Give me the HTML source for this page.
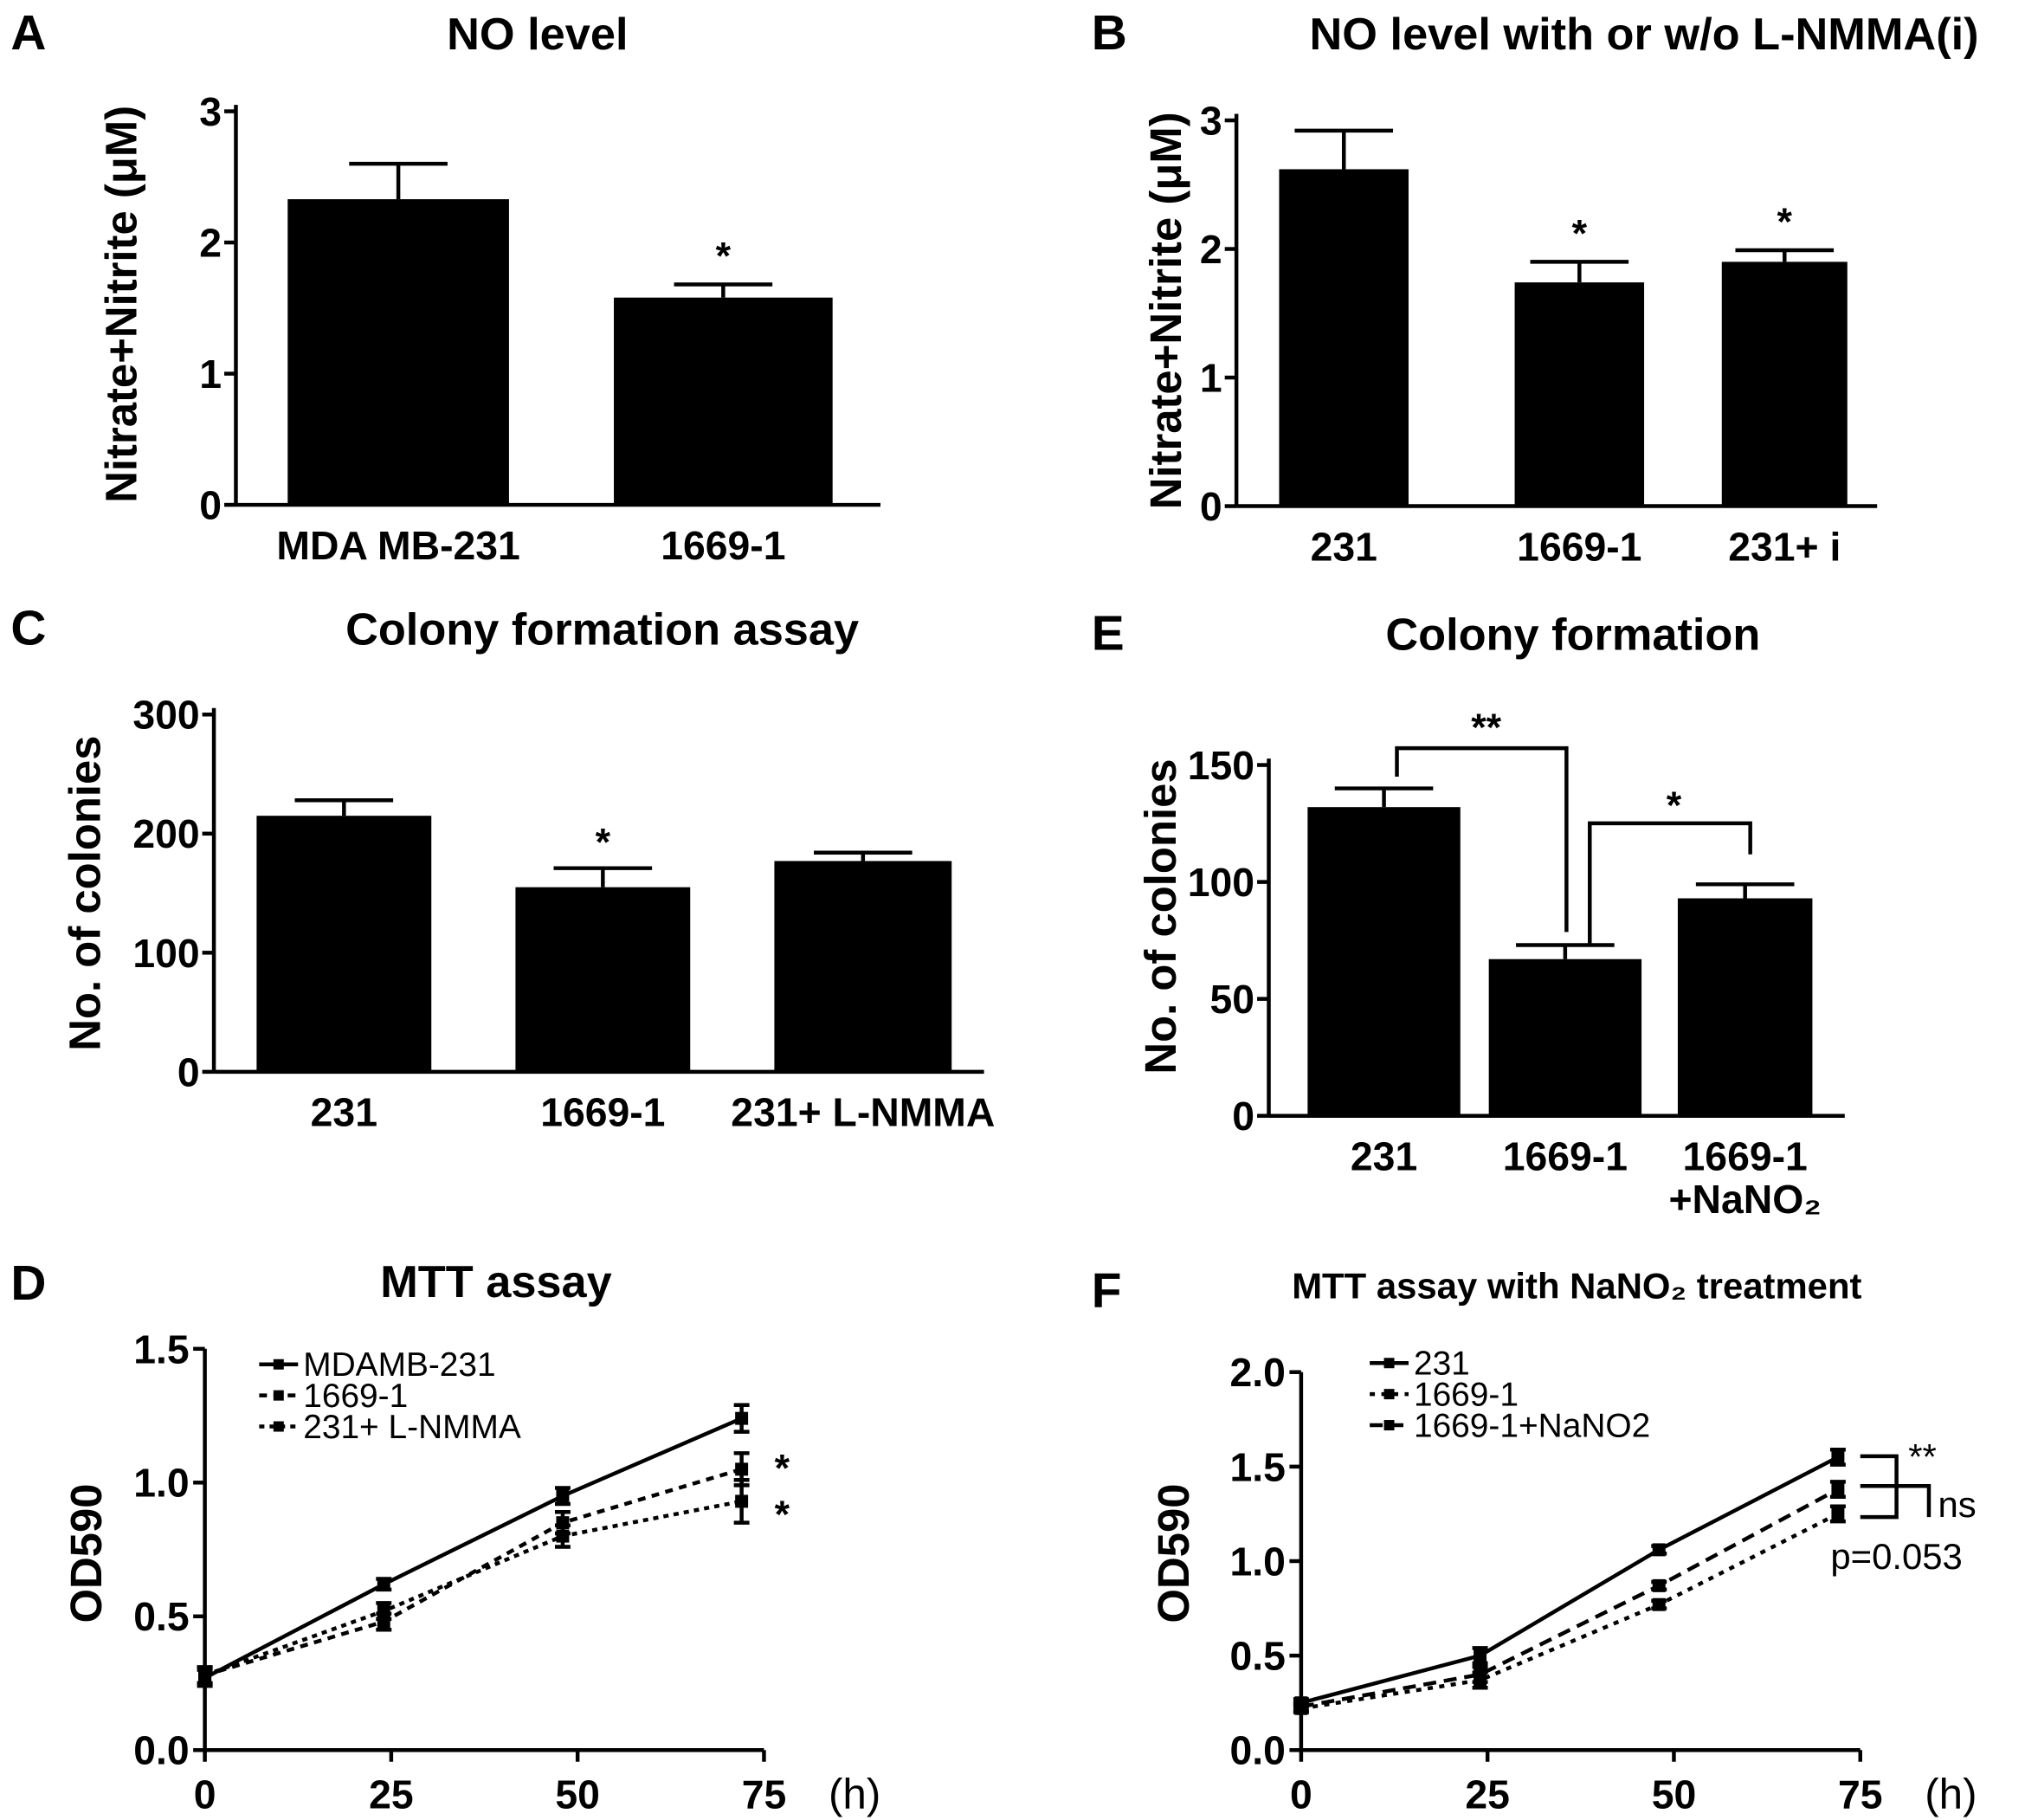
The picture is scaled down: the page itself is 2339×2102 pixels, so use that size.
<!DOCTYPE html>
<html><head><meta charset="utf-8"><style>
html,body{margin:0;padding:0;background:#fff}
svg{display:block}
text{font-family:"Liberation Sans",Arial,sans-serif;fill:#000}
</style></head><body>
<svg id="fig" xmlns="http://www.w3.org/2000/svg" width="2339" height="2102" viewBox="0 0 1564 1406">
<rect width="1564" height="1406" fill="#fff"/>
</svg>
<script>
// Panel A
const aCats=["MDA MB-231","1669-1"];
const aVals=[2.33,1.58];
const aErr=[0.27,0.1];
// Panel B
const bCats=["231","1669-1","231+ i"];
const bVals=[2.62,1.74,1.9];
const bErr=[0.3,0.16,0.09];
// Panel C
const cCats=["231","1669-1","231+ L-NMMA"];
const cVals=[215,155,177];
const cErr=[13,16,7];
// Panel E
const eCats=["231","1669-1","1669-1"];
const eVals=[132,67,93];
const eErr=[8,6,6];
// Panel D
const dX=[0,24,48,72];
const dS1=[0.27,0.62,0.95,1.24];
const dS2=[0.28,0.48,0.85,1.05];
const dS3=[0.28,0.52,0.80,0.93];
const dE1=[0.03,0.02,0.03,0.05];
const dE2=[0.03,0.03,0.04,0.06];
const dE3=[0.03,0.03,0.04,0.08];
// Panel F
const fX=[0,24,48,72];
const fS1=[0.25,0.50,1.06,1.55];
const fS2=[0.22,0.37,0.77,1.25];
const fS3=[0.23,0.40,0.87,1.38];
const fE=[0.02,0.04,0.02,0.04];

const NS="http://www.w3.org/2000/svg";
const svg=document.getElementById('fig');
function mk(tag,attrs,parent){const e=document.createElementNS(NS,tag);for(const k in attrs)e.setAttribute(k,attrs[k]);(parent||svg).appendChild(e);return e;}
function txt(x,y,s,size,opts,parent){opts=opts||{};const t=mk('text',{x:x,y:y,'font-size':size,'font-weight':opts.w||'bold','text-anchor':opts.a||'middle'},parent);if(opts.rot)t.setAttribute('transform','rotate(-90 '+x+' '+y+')');t.textContent=s;return t;}
function line(x1,y1,x2,y2,w,parent,dash){const l=mk('line',{x1:x1,y1:y1,x2:x2,y2:y2,stroke:'#000','stroke-width':w||3},parent);if(dash)l.setAttribute('stroke-dasharray',dash);return l;}

function barPanel(name,cfg,cats,vals,errs){
  const g=mk('g',{});
  
  
  const y=v=>cfg.y0-(v-0)/(cfg.vmax)*(cfg.y0-cfg.yTop);
  const ax=line(cfg.ax,cfg.yTop-5,cfg.ax,cfg.y0,3,g);
  
  const xa=line(cfg.ax,cfg.y0,cfg.axEnd,cfg.y0,3,g);
  
  cfg.ticks.forEach(t=>{line(cfg.ax-9,y(t),cfg.ax,y(t),3,g);
    const tl=txt(cfg.ax-11,y(t)+11,String(t),31,{a:'end'},g);
    });
  cats.forEach((c,i)=>{
    const x0=cfg.bx[i][0],x1=cfg.bx[i][1],cx=(x0+x1)/2;
    const b=mk('rect',{x:x0,y:y(vals[i]),width:x1-x0,height:cfg.y0-y(vals[i]),fill:'#000'},g);
    
    
    const ey=y(vals[i]+errs[i]);
    line(cx,y(vals[i]),cx,ey,3,g);line(cx-38,ey,cx+38,ey,3,g);
    const tl=txt(cx,cfg.y0+cfg.labDy,c,31,{},g);
    
    if(cfg.stars&&cfg.stars[i]){const s=txt(cx,ey-cfg.starDy,cfg.stars[i],30,{},g);
      }
  });
  const tt=txt(cfg.titleX,cfg.titleY,cfg.title,35,{},g);
  
  const yl=txt(cfg.ylX,cfg.ylY,cfg.ylabel,cfg.ylSize||34,{rot:true},g);
  
  const pl=txt(cfg.plX,cfg.plY,cfg.pl,38,{a:'start'},g);
  
  return {g,y};
}

barPanel('panel-a',{ax:182,axEnd:680,y0:390,yTop:86,vmax:3,ticks:[0,1,2,3],bx:[[222,393],[474,643]],labDy:42,
  stars:['','*'],starDy:12,title:'NO level',titleX:415,titleY:38,ylabel:'Nitrate+Nitrite (\u03bcM)',ylX:105,ylY:235,pl:'A',plX:8,plY:38},aCats,aVals,aErr);
barPanel('panel-b',{ax:955,axEnd:1450,y0:391,yTop:93,vmax:3,ticks:[0,1,2,3],bx:[[988,1088],[1170,1270],[1330,1427]],labDy:42,
  stars:['','*','*'],starDy:12,title:'NO level with or w/o L-NMMA(i)',titleX:1270,titleY:38,ylabel:'Nitrate+Nitrite (\u03bcM)',ylX:912,ylY:240,pl:'B',plX:843,plY:38},bCats,bVals,bErr);
barPanel('panel-c',{ax:165,axEnd:760,y0:828,yTop:552,vmax:300,ticks:[0,100,200,300],bx:[[198,333],[398,533],[598,735]],labDy:42,
  stars:['','*',''],starDy:10,title:'Colony formation assay',titleX:465,titleY:498,ylabel:'No. of colonies',ylX:77,ylY:690,pl:'C',plX:8,plY:498},cCats,cVals,cErr);
const E=barPanel('panel-e',{ax:980,axEnd:1425,y0:862,yTop:591,vmax:150,ticks:[0,50,100,150],bx:[[1010,1128],[1150,1268],[1296,1400]],labDy:42,
  stars:null,title:'Colony formation',titleX:1215,titleY:502,ylabel:'No. of colonies',ylX:908,ylY:708,pl:'E',plX:843,plY:502},eCats,eVals,eErr);
txt(1348,937,'+NaNO\u2082',31,{},E.g);
const br=mk('g',{});


mk('polyline',{points:'1079,600 1079,578 1210,578 1210,720',fill:'none',stroke:'#000','stroke-width':3},br);
mk('polyline',{points:'1228,730 1228,636 1352,636 1352,660',fill:'none',stroke:'#000','stroke-width':3},br);
txt(1148,572,'**',30,{},br);txt(1293,632,'*',30,{},br);

function linePanel(name,cfg,xs,series,errs,styles,labels){
  const g=mk('g',{});
  
  
  const X=v=>cfg.ax+v/75*(cfg.x75-cfg.ax);
  const Y=v=>cfg.y0-v/cfg.vmax*(cfg.y0-cfg.yTop);
  const ya=line(cfg.ax,cfg.yTop,cfg.ax,cfg.y0,3,g);
  
  const xa=line(cfg.ax,cfg.y0,cfg.x75,cfg.y0,3,g);
  
  cfg.yt.forEach(t=>{line(cfg.ax-9,Y(t),cfg.ax,Y(t),3,g);
    const l=txt(cfg.ax-12,Y(t)+11,t.toFixed(1),31,{a:'end'},g);
    });
  [0,25,50,75].forEach(t=>{line(X(t),cfg.y0,X(t),cfg.y0+9,3,g);
    const l=txt(X(t),cfg.y0+45,String(t),31,{},g);
    });
  const h=txt(cfg.x75+70,cfg.y0+45,'(h)',33,{w:'normal'},g);
  
  series.forEach((s,k)=>{
    const p=mk('polyline',{points:xs.map((x,i)=>X(x)+','+Y(s[i])).join(' '),fill:'none',stroke:'#000','stroke-width':3},g);
    if(styles[k])p.setAttribute('stroke-dasharray',styles[k]);
    
    xs.forEach((x,i)=>{const e=errs[k][i];
      line(X(x),Y(s[i]-e),X(x),Y(s[i]+e),3,g);
      line(X(x)-6,Y(s[i]-e),X(x)+6,Y(s[i]-e),3,g);line(X(x)-6,Y(s[i]+e),X(x)+6,Y(s[i]+e),3,g);
      const m=mk('rect',{x:X(x)-5,y:Y(s[i])-5,width:10,height:10,fill:'#000'},g);
      });
    const ly=cfg.legY+k*24;
    line(cfg.legX,ly,cfg.legX+30,ly,3,g,styles[k]||null);
    mk('rect',{x:cfg.legX+11,y:ly-4,width:8,height:8,fill:'#000'},g);
    const lt=txt(cfg.legX+34,ly+9,labels[k],26,{a:'start',w:'normal'},g);
    
  });
  const tt=txt(cfg.titleX,cfg.titleY,cfg.title,cfg.titleSize,{},g);
  
  const yl=txt(cfg.ylX,cfg.ylY,'OD590',34,{rot:true},g);
  
  const pl=txt(cfg.plX,cfg.plY,cfg.pl,38,{a:'start'},g);
  
  return {g,X,Y};
}
const D=linePanel('panel-d',{ax:158,x75:590,y0:1352,yTop:1042,vmax:1.5,yt:[0,0.5,1,1.5],legX:200,legY:1054,
  title:'MTT assay',titleX:383,titleY:1002,titleSize:35,ylX:78,ylY:1200,pl:'D',plX:8,plY:1004},
  dX,[dS1,dS2,dS3],[dE1,dE2,dE3],[null,'6,5','4,4'],['MDAMB-231','1669-1','231+ L-NMMA']);
txt(604,1144,'*',30,{},D.g);txt(604,1180,'*',30,{},D.g);
const F=linePanel('panel-f',{ax:1005,x75:1437,y0:1352,yTop:1060,vmax:2,yt:[0,0.5,1,1.5,2],legX:1058,legY:1053,
  title:'MTT assay with NaNO\u2082 treatment',titleX:1218,titleY:1003,titleSize:28,ylX:918,ylY:1200,pl:'F',plX:843,plY:1010},
  fX,[fS1,fS2,fS3],[fE,fE,fE],[null,'4,5','10,6'],['231','1669-1','1669-1+NaNO2']);
const fb=mk('g',{});


mk('polyline',{points:'1437,1125 1465,1125 1465,1172 1437,1172',fill:'none',stroke:'#000','stroke-width':3},fb);
mk('polyline',{points:'1437,1148 1490,1148 1490,1172',fill:'none',stroke:'#000','stroke-width':3},fb);
txt(1485,1135,'**',28,{w:'normal'},fb);
txt(1497,1172,'ns',28,{a:'start',w:'normal'},fb);
txt(1465,1212,'p=0.053',28,{w:'normal'},fb);
</script>
</body></html>
